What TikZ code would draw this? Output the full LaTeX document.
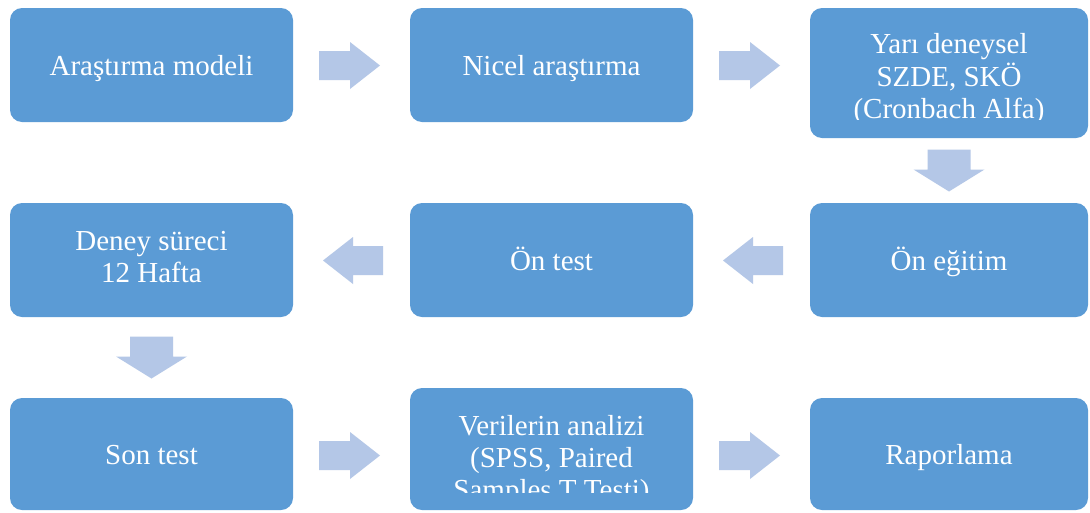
\documentclass[tikz,border=0pt]{standalone}
\usepackage{fontspec}
\setmainfont{Liberation Serif}
\usetikzlibrary{calc}
\definecolor{boxblue}{HTML}{5B9BD5}
\definecolor{arrblue}{HTML}{B4C7E7}
\newcommand\boxfont{\fontsize{29}{33}\selectfont}
\tikzset{
  box/.style={fill=boxblue, draw=none, rounded corners=12pt, inner sep=0pt,
    text=white, font=\boxfont, text height=24pt, text depth=3pt,
    minimum height=114pt},
  wbox/.style={box, minimum width=283pt},
  nbox/.style={box, minimum width=278pt},
  ln/.style={text=white, font=\boxfont, anchor=base, inner sep=0pt},
  arr/.style={fill=arrblue, draw=none},
}
\newcommand\myRarr[1]{\fill[arr] (#1) ++(-30.5,-14.5) -- ++(31,0) -- ++(0,-9) -- ++(30,23.5) -- ++(-30,23.5) -- ++(0,-9) -- ++(-31,0) -- cycle;}
\newcommand\myLarr[1]{\fill[arr] (#1) ++(30,-14.5) -- ++(-30,0) -- ++(0,-9) -- ++(-30,23.5) -- ++(30,23.5) -- ++(0,-9) -- ++(30,0) -- cycle;}
\newcommand\myDarr[1]{\fill[arr] (#1) ++(-21.5,-21) -- ++(43,0) -- ++(0,20) -- ++(14,0) -- ++(-35.5,22) -- ++(-35.5,-22) -- ++(14,0) -- cycle;}
\begin{document}
\begin{tikzpicture}[x=1pt,y=-1pt]
\fill[white] (0,0) rectangle (1090,512);
\useasboundingbox (0,0) rectangle (1090,512);
% row 1
\node[wbox] (b1) at (151.5,65) {Araştırma modeli};
\node[wbox] (b2) at (551.5,65) {Nicel araştırma};
\node[nbox, minimum height=130pt] (b3) at (949,73) {};
% row 2
\node[wbox] (b4) at (151.5,260) {};
\node[wbox] (b5) at (551.5,260) {Ön test};
\node[nbox] (b6) at (949,260) {Ön eğitim};
% row 3
\node[wbox, minimum height=112pt] (b7) at (151.5,454) {Son test};
\node[wbox, minimum height=122pt] (b8) at (551.5,449) {};
\node[nbox, minimum height=112pt] (b9) at (949,454) {Raporlama};
% multi-line texts
\begin{scope}
  \clip (b3.north west) rectangle ([yshift=19pt]b3.south east);
  \node[ln] (t3a) at ($(b3.center)+(0,-20)$) {Yarı deneysel};
  \node[ln] (t3b) at ($(b3.center)+(0,13)$) {SZDE, SKÖ};
  \node[ln] (t3c) at ($(b3.center)+(0,45)$) {(Cronbach Alfa)};
\end{scope}
\node[ln] (t4a) at ($(b4.center)+(0,-10)$) {Deney süreci};
\node[ln] (t4b) at ($(b4.center)+(0,22)$) {12 Hafta};
\begin{scope}
  \clip (b8.north west) rectangle ([yshift=18pt]b8.south east);
  \node[ln] (t8a) at ($(b8.center)+(0,-14)$) {Verilerin analizi};
  \node[ln] (t8b) at ($(b8.center)+(0,18)$) {(SPSS, Paired};
  \node[ln] (t8c) at ($(b8.center)+(0,50)$) {Samples T Testi)};
\end{scope}
% arrows
\coordinate (m12) at ($($(b1.east)!0.5!(b2.west)$)+(-2,0.5)$);
\coordinate (m23) at ($($(b2.east)!0.5!(b3.west |- b2.east)$)+(-2,0.5)$);
\coordinate (m36) at ($(b3.south)!0.5!(b6.north)$);
\coordinate (m65) at ($($(b6.west)!0.5!(b5.east)$)+(1.5,0.5)$);
\coordinate (m54) at ($($(b5.west)!0.5!(b4.east)$)+(1.5,0.5)$);
\coordinate (m47) at ($(b4.south)!0.5!(b7.north)$);
\coordinate (m78) at ($($(b7.east)!0.5!(b8.west |- b7.east)$)+(-2,1.5)$);
\coordinate (m89) at ($($(b8.east |- b9.west)!0.5!(b9.west)$)+(-2,1.5)$);
\myRarr{m12}
\myRarr{m23}
\myDarr{m36}
\myLarr{m65}
\myLarr{m54}
\myDarr{m47}
\myRarr{m78}
\myRarr{m89}
\end{tikzpicture}
\end{document}
